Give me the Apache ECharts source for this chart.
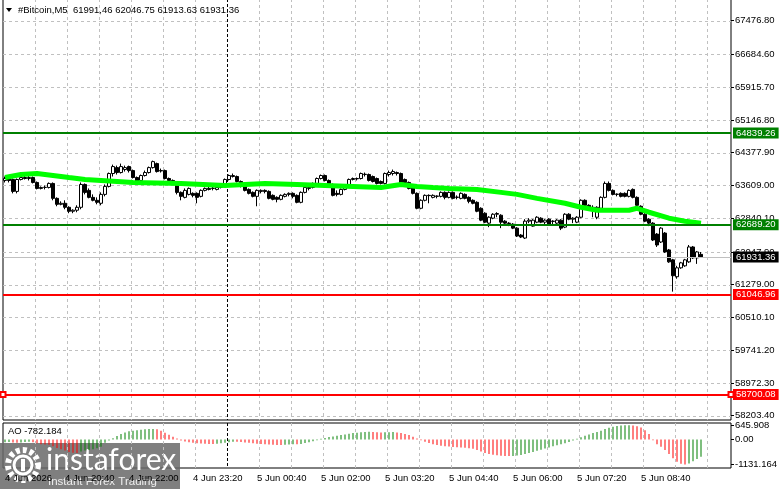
<!DOCTYPE html>
<html>
<head>
<meta charset="utf-8">
<script src="https://cdn.jsdelivr.net/npm/echarts@6.0.0/dist/echarts.min.js"></script>
<style>
html, body { margin: 0; padding: 0; background: #fff; }
#box1 { width: 781px; height: 489px; }
</style>
</head>
<body>
<div id="box1"></div>
<script>
// M5 bars, 4 Jun 19:25 .. 5 Jun 09:55, plus empty shift area on the right
let months = ['Jan', 'Feb', 'Mar', 'Apr', 'May', 'Jun', 'Jul', 'Aug', 'Sep', 'Oct', 'Nov', 'Dec'];
function pad(n) { return (n < 10 ? '0' : '') + n; }
let slotCount = 182;
let categories = [];
for (let k = 0; k < slotCount; k++) {
    let d = new Date(Date.UTC(2026, 5, 4, 19, 25) + k * 300000);
    categories.push(d.getUTCDate() + ' ' + months[d.getUTCMonth()] + ' ' + pad(d.getUTCHours()) + ':' + pad(d.getUTCMinutes()));
}

// [open, close, low, high]
let candles = [
    [63726,63772,63679,63819],[63772,63726,63679,63795],[63749,63469,63423,63772],[63469,63749,63423,63772],
    [63749,63795,63726,63842],[63795,63772,63749,63842],[63772,63795,63726,63842],[63795,63679,63656,63819],
    [63679,63539,63516,63702],[63539,63562,63516,63586],[63562,63566,63516,63609],[63562,63656,63539,63679],
    [63656,63306,63260,63679],[63306,63166,63120,63329],[63166,63190,63143,63236],[63190,63096,63050,63260],
    [63096,63003,62957,63120],[63003,63027,62957,63050],[63027,63096,62980,63143],[63096,63632,63050,63679],
    [63632,63446,63399,63656],[63493,63329,63306,63539],[63329,63260,63236,63399],[63260,63213,63166,63329],
    [63190,63399,63143,63446],[63399,63586,63353,63632],[63586,63889,63562,63912],[63889,64052,63819,64098],
    [64028,63912,63865,64075],[63912,64052,63889,64122],[63982,64028,63935,64075],[64052,63958,63912,64075],
    [63958,63795,63772,63982],[63795,63702,63679,63819],[63726,63842,63702,63865],[63842,63912,63819,63958],
    [63912,64028,63889,64052],[64028,64168,64005,64192],[64122,63935,63912,64145],[63958,63950,63912,64005],
    [63958,63772,63749,63982],[63772,63726,63702,63795],[63726,63656,63632,63749],[63656,63446,63399,63679],
    [63446,63353,63260,63469],[63329,63493,63306,63539],[63399,63539,63376,63562],[63423,63376,63329,63446],
    [63423,63329,63190,63446],[63353,63493,63329,63516],[63493,63539,63469,63562],[63539,63516,63493,63586],
    [63539,63545,63493,63586],[63516,63562,63493,63609],[63562,63632,63539,63656],[63632,63749,63609,63772],
    [63749,63842,63726,63865],[63819,63842,63795,63889],[63819,63702,63679,63842],[63702,63586,63562,63726],
    [63586,63493,63469,63609],[63516,63423,63399,63539],[63446,63353,63329,63469],[63353,63493,63120,63516],
    [63469,63493,63423,63516],[63493,63469,63423,63516],[63469,63306,63283,63493],[63376,63283,63260,63399],
    [63329,63283,63213,63353],[63283,63376,63260,63399],[63353,63399,63329,63423],[63399,63423,63353,63446],
    [63423,63353,63306,63446],[63376,63213,63190,63399],[63213,63446,63190,63469],[63446,63562,63423,63586],
    [63539,63562,63493,63609],[63562,63656,63539,63679],[63656,63772,63632,63795],[63772,63842,63749,63865],
    [63842,63726,63702,63865],[63726,63656,63632,63749],[63632,63376,63353,63656],[63423,63399,63353,63493],
    [63399,63516,63376,63539],[63516,63609,63493,63632],[63609,63749,63586,63772],[63749,63772,63726,63795],
    [63772,63765,63726,63795],[63772,63889,63749,63912],[63865,63872,63819,63912],[63865,63726,63702,63889],
    [63819,63702,63679,63842],[63772,63656,63632,63795],[63702,63656,63632,63726],[63656,63889,63632,63912],
    [63865,63912,63819,63958],[63889,63935,63842,63982],[63912,63889,63842,63935],[63889,63679,63656,63912],
    [63749,63679,63656,63772],[63679,63539,63516,63702],[63562,63423,63399,63586],[63423,63073,63050,63446],
    [63073,63260,63050,63283],[63260,63376,63236,63399],[63376,63370,63190,63399],[63329,63376,63306,63399],
    [63353,63360,63306,63376],[63353,63446,63329,63469],[63446,63329,63283,63469],[63329,63446,63306,63469],
    [63446,63306,63283,63469],[63329,63335,63283,63376],[63306,63423,63283,63446],[63399,63306,63283,63423],
    [63329,63236,63190,63353],[63260,63190,63166,63283],[63213,63003,62980,63236],[63073,62794,62770,63096],
    [62957,62747,62724,62980],[62724,62863,62630,62887],[62840,62933,62817,62957],[62933,62950,62863,62980],
    [62910,62747,62607,62933],[62770,62724,62700,62794],[62724,62715,62654,62747],[62700,62607,62584,62724],
    [62607,62421,62398,62630],[62444,62398,62374,62467],[62374,62770,62351,62817],[62770,62794,62724,62840],
    [62654,62794,62640,62817],[62747,62863,62724,62887],[62840,62747,62724,62863],[62747,62794,62700,62817],
    [62817,62700,62677,62840],[62770,62765,62700,62794],[62724,62794,62700,62817],[62794,62607,62561,62817],
    [62630,62933,62607,62957],[62933,62817,62794,62957],[62817,62840,62724,62863],[62747,62863,62724,62887],
    [62863,63260,62840,63283],[63260,63143,63120,63283],[63143,63073,63050,63166],[63096,63090,62863,63143],
    [62863,63096,62817,63120],[63073,63329,63050,63353],[63329,63656,63306,63702],[63656,63493,63469,63702],
    [63493,63399,63376,63516],[63399,63405,63353,63423],[63423,63353,63329,63446],[63423,63353,63329,63446],
    [63353,63493,63329,63516],[63516,63329,63306,63539],[63329,63143,63120,63353],[63120,62933,62910,63143],
    [62933,62770,62747,62957],[62817,62724,62654,62840],[62724,62328,62304,62747],[62467,62211,62165,62491],
    [62281,62607,62258,62630],[62491,62048,62025,62514],[62095,61815,61792,62118],[61862,61489,61116,61885],
    [61466,61675,61419,61722],[61675,61792,61652,61815],[61722,61862,61699,61885],[61815,62165,61792,62211],
    [62165,61908,61885,62188],[61908,62048,61768,62071],[61991.46,61931.36,61913.63,62046.75]
];

// moving average, read at some bars: [bar index, value]
let maPoints = [
    [0,63795],[4,63865],[8,63889],[12,63842],[16,63795],[20,63749],[24,63726],[32,63679],
    [44,63656],[55,63609],[65,63656],[73,63632],[80,63609],[87,63586],[94,63562],[99,63632],
    [103,63586],[107,63562],[111,63539],[118,63516],[124,63446],[128,63399],[133,63306],[140,63190],
    [144,63096],[148,63027],[156,63027],[158,63073],[161,62980],[166,62840],[170,62770],[174,62724]
];

// Awesome Oscillator
let aoValues = [
    -120,-110,-140,-150,-130,-110,-100,-120,-170,-210,-230,-240,-300,-380,-440,-500,-570,-600,-610,-540,
    -500,-470,-440,-400,-330,-150,-50,60,160,250,320,370,400,420,440,460,470,480,460,400,
    300,220,130,40,-40,-90,-120,-150,-170,-180,-190,-200,-200,-190,-170,-150,-120,-100,-100,-110,
    -130,-150,-170,-190,-200,-210,-230,-240,-250,-250,-240,-230,-220,-220,-200,-160,-120,-80,-30,
    30,70,110,140,170,200,230,260,290,310,330,340,345,340,330,320,325,330,335,320,290,250,200,130,50,
    -30,-100,-160,-210,-250,-280,-300,-320,-340,-350,-360,-370,-390,-420,-470,-540,-610,-660,-690,-710,
    -730,-740,-750,-740,-720,-700,-660,-610,-560,-510,-460,-410,-360,-310,-260,-220,-170,-110,-50,
    30,100,170,230,290,340,400,470,530,580,610,630,640,645.908,630,600,540,420,250,
    -30,-220,-330,-480,-650,-850,-1000,-1100,-1131.164,-1080,-980,-880,-782.184
];

let priceTicks = [58203.40, 58972.30, 59741.20, 60510.10, 61279.00, 62047.90, 62840.10,
    63609.00, 64377.90, 65146.80, 65915.70, 66684.60, 67476.80];
let aoTicks = [645.908, 0, -1131.164];
let resistLevels = [64839.26, 62689.20];
let supportLevels = [61046.96, 58700.08];
let lastPrice = 61931.36;
let dayStartBar = 56;
let headerText = '#Bitcoin,M5  61991,46 62046.75 61913.63 61931.36';

// vertical grid every 40 minutes (8 bars)
let gridBars = [];
for (let k = 8; k < slotCount; k += 8) { if (k !== dayStartBar) gridBars.push(k); }

let fontFam = '"Liberation Sans", Arial, sans-serif';
let fs = 9.5;
let gridColor = '#c0c0c0';

function levelLine(v, color, bg) {
    return {
        yAxis: v,
        lineStyle: { color: color, width: color === '#c0c0c0' ? 1 : 2, type: 'solid' },
        label: {
            show: true, position: 'end', distance: 2,
            formatter: v.toFixed(2), color: '#fff', backgroundColor: bg,
            padding: [1, 3, 0, 3], fontSize: fs, fontFamily: fontFam
        }
    };
}

// dotted grid drawn as short solid segments
function hDots(color, on, off) {
    return function (params, api) {
        let cs = params.coordSys;
        let y = Math.round(api.coord([0, api.value(1)])[1]) + 0.5;
        let kids = [];
        for (let x = cs.x; x < cs.x + cs.width; x += on + off) {
            kids.push({ type: 'line', shape: { x1: x, y1: y, x2: Math.min(x + on, cs.x + cs.width), y2: y }, style: { stroke: color, lineWidth: 1 } });
        }
        return { type: 'group', children: kids };
    };
}
function vDots(color, on, off) {
    return function (params, api) {
        let cs = params.coordSys;
        let x = Math.round(api.coord([api.value(0), api.value(1)])[0] - api.size([1, 0])[0] / 2) + 0.5;
        let kids = [];
        for (let y = cs.y; y < cs.y + cs.height; y += on + off) {
            kids.push({ type: 'line', shape: { x1: x, y1: y, x2: x, y2: Math.min(y + on, cs.y + cs.height) }, style: { stroke: color, lineWidth: 1 } });
        }
        return { type: 'group', children: kids };
    };
}

let box1 = document.querySelector('#box1');
let myChart1 = echarts.init(box1);
let option1 = {
    animation: false,
    backgroundColor: '#fff',
    grid: [
        { left: 3, top: -1, width: 728, height: 421, show: true, backgroundColor: 'transparent', borderColor: '#000', borderWidth: 1, outerBoundsMode: 'none' },
        { left: 3, top: 423, width: 728, height: 45, show: true, backgroundColor: 'transparent', borderColor: '#000', borderWidth: 1, outerBoundsMode: 'none' }
    ],
    xAxis: [
        {
            type: 'category', gridIndex: 0, data: categories,
            axisLine: { show: false }, axisTick: { show: false }, axisLabel: { show: false },
            splitLine: { show: false }
        },
        {
            type: 'category', gridIndex: 1, data: categories,
            axisLine: { show: false }, axisTick: { show: false },
            axisLabel: {
                show: true, align: 'left', margin: 5, color: '#000', fontSize: fs, fontFamily: fontFam,
                interval: function (i) { return i === 0 || (i % 16 === 15 && i < 170); },
                formatter: function (v, i) { return i === 0 ? '4 Jun 2026' : v; }
            },
            splitLine: { show: false }
        }
    ],
    yAxis: [
        {
            type: 'value', gridIndex: 0, position: 'right', min: 58102.4, max: 67986.2,
            axisLine: { show: false },
            axisTick: { show: true, length: 3, customValues: priceTicks, lineStyle: { color: '#000' } },
            axisLabel: {
                customValues: priceTicks, margin: 4, color: '#000', fontSize: fs, fontFamily: fontFam,
                formatter: function (v) { return v.toFixed(2); }
            },
            splitLine: { show: false }
        },
        {
            type: 'value', gridIndex: 1, position: 'right', min: -1288, max: 746,
            axisLine: { show: false },
            axisTick: { show: true, length: 3, customValues: aoTicks, lineStyle: { color: '#000' } },
            axisLabel: {
                customValues: aoTicks, margin: 4, color: '#000', fontSize: fs, fontFamily: fontFam,
                formatter: function (v) { return v === 0 ? '0.00' : v.toFixed(3); }
            },
            splitLine: { show: false }
        }
    ],
    series: [
        {
            // horizontal price grid
            type: 'custom', xAxisIndex: 0, yAxisIndex: 0, z: 1, silent: true, clip: false,
            encode: { x: 0, y: 1 },
            data: priceTicks.map(function (v) { return [0, v]; }),
            renderItem: hDots(gridColor, 3, 3)
        },
        {
            // vertical time grid, price panel
            type: 'custom', xAxisIndex: 0, yAxisIndex: 0, z: 1, silent: true, clip: false,
            encode: { x: 0, y: 1 },
            data: gridBars.map(function (b) { return [b, 60000]; }),
            renderItem: vDots(gridColor, 3, 3)
        },
        {
            // day separator, price panel
            type: 'custom', xAxisIndex: 0, yAxisIndex: 0, z: 2, silent: true, clip: false,
            encode: { x: 0, y: 1 },
            data: [[dayStartBar, 60000]],
            renderItem: vDots('#000', 3, 2)
        },
        {
            // vertical time grid, AO panel
            type: 'custom', xAxisIndex: 1, yAxisIndex: 1, z: 1, silent: true, clip: false,
            encode: { x: 0, y: 1 },
            data: gridBars.map(function (b) { return [b, 0]; }),
            renderItem: vDots(gridColor, 3, 3)
        },
        {
            // day separator, AO panel
            type: 'custom', xAxisIndex: 1, yAxisIndex: 1, z: 3, silent: true, clip: false,
            encode: { x: 0, y: 1 },
            data: [[dayStartBar, 0]],
            renderItem: vDots('#000', 3, 2)
        },
        {
            type: 'candlestick', xAxisIndex: 0, yAxisIndex: 0, data: candles, z: 3,
            barWidth: 3,
            itemStyle: { color: '#fff', color0: '#000', borderColor: '#000', borderColor0: '#000', borderWidth: 1 }
        },
        {
            type: 'line', xAxisIndex: 0, yAxisIndex: 0, data: maPoints, z: 4,
            showSymbol: false, symbol: 'none',
            lineStyle: { color: '#00ff00', width: 5 }
        },
        {
            type: 'line', xAxisIndex: 0, yAxisIndex: 0, data: [], z: 5,
            markLine: {
                silent: true, symbol: 'none', animation: false,
                data: [
                    levelLine(resistLevels[0], '#008000', '#008000'),
                    levelLine(resistLevels[1], '#008000', '#008000'),
                    levelLine(lastPrice, '#c0c0c0', '#000'),
                    levelLine(supportLevels[0], '#ff0000', '#ff0000')
                ]
            }
        },
        {
            type: 'line', xAxisIndex: 0, yAxisIndex: 0, data: [], z: 5,
            markLine: {
                silent: true, symbol: ['emptyRect', 'emptyRect'], symbolSize: 5, animation: false,
                data: [levelLine(supportLevels[1], '#ff0000', '#ff0000')]
            }
        },
        {
            type: 'bar', xAxisIndex: 1, yAxisIndex: 1, barWidth: 1, z: 2,
            data: aoValues.map(function (v, i) {
                let up = i === 0 || v > aoValues[i - 1];
                return { value: v, itemStyle: { color: up ? '#008000' : '#ff0000' } };
            })
        }
    ],
    graphic: [
        {
            type: 'polygon', z: 100,
            shape: { points: [[6, 8], [12, 8], [9, 12]] },
            style: { fill: '#000' }
        },
        {
            type: 'text', z: 100, x: 18, y: 10,
            style: { text: headerText, fill: '#000', fontSize: fs, fontFamily: fontFam, verticalAlign: 'middle' }
        },
        {
            type: 'text', z: 100, x: 8, y: 431,
            style: { text: 'AO ' + aoValues[aoValues.length - 1].toFixed(3), fill: '#000', fontSize: fs, fontFamily: fontFam, verticalAlign: 'middle' }
        },
        {
            type: 'group', z: 110,
            children: [
                { type: 'rect', shape: { x: 0, y: 443, width: 180, height: 46 }, style: { fill: 'rgba(105,105,105,0.85)' } },
                { type: 'circle', shape: { cx: 23, cy: 465, r: 15 }, style: { fill: 'none', stroke: '#fff', lineWidth: 6, lineDash: [4, 3] } },
                { type: 'circle', shape: { cx: 23, cy: 465, r: 9 }, style: { fill: 'none', stroke: '#fff', lineWidth: 3 } },
                { type: 'rect', shape: { x: 21, y: 459, width: 4, height: 12 }, style: { fill: '#fff' } },
                { type: 'text', x: 46, y: 460, style: { text: 'instaforex', fill: '#fff', fontSize: 30, fontFamily: 'Lato, "Open Sans", sans-serif', verticalAlign: 'middle' } },
                { type: 'text', x: 48, y: 482, style: { text: 'Instant Forex Trading', fill: '#eee', fontSize: 11.5, fontFamily: fontFam, verticalAlign: 'middle' } }
            ]
        }
    ]
};
myChart1.setOption(option1);
</script>
</body>
</html>
